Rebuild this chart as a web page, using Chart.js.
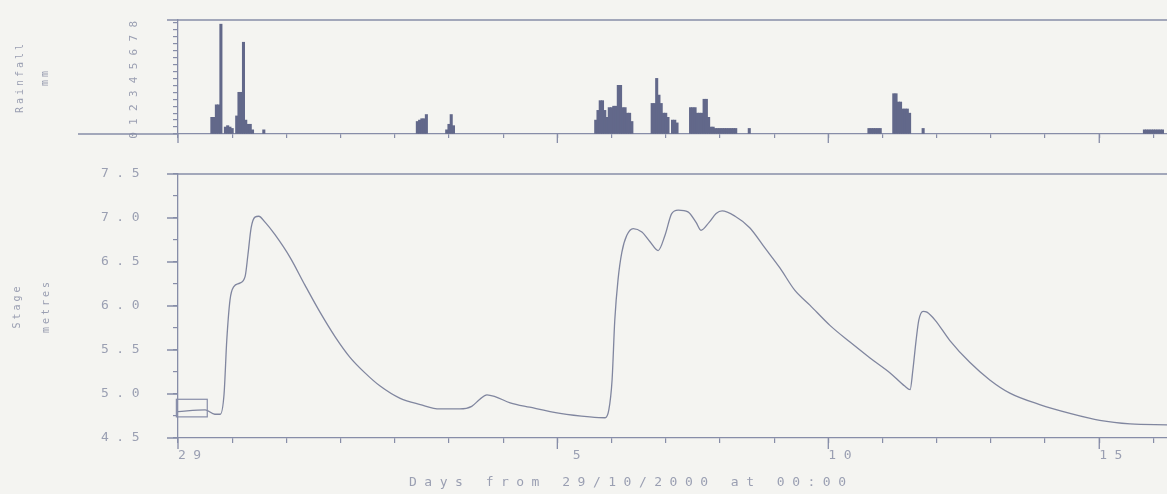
<!DOCTYPE html>
<html>
<head>
<meta charset="utf-8">
<script src="https://cdn.jsdelivr.net/npm/chart.js@4.4.1/dist/chart.umd.min.js"></script>
<style>
  html, body { margin: 0; padding: 0; background: #f4f4f1; }
  #wrap { position: relative; width: 1167px; height: 494px; overflow: hidden; }
  #rainBox { position: absolute; left: 0; top: 0; width: 1167px; height: 150px; }
  #stageBox { position: absolute; left: 0; top: 150px; width: 1167px; height: 344px; }
</style>
</head>
<body>
<div id="wrap">
  <div id="rainBox"><canvas id="rainChart"></canvas></div>
  <div id="stageBox"><canvas id="stageChart"></canvas></div>
</div>
<script>
// x axis: days from 29/10/2000 00:00
const xMaxDays = 18.25;
const xTickDays = [0, 7, 12, 17];
const xTickText = ['29', ' 5', '10', '15'];

// hourly rainfall (mm), hour counted from the start
const rainHours = [15, 16, 17, 18, 19, 21, 22, 23, 24, 26, 27, 28, 29, 30, 31, 32, 33, 38,
  106, 107, 108, 109, 110, 119, 120, 121, 122,
  185, 186, 187, 188, 189, 190, 191, 192, 193, 194, 195, 196, 197, 198, 199, 200, 201,
  210, 211, 212, 213, 214, 215, 216, 217, 219, 220, 221,
  227, 228, 229, 230, 231, 232, 233, 234, 235, 236, 237, 238, 239, 240, 241, 242, 243, 244, 245, 246, 247, 253,
  306, 307, 308, 309, 310, 311, 317, 318, 319, 320, 321, 322, 323, 324, 330,
  428, 429, 430, 431, 432, 433, 434, 435, 436];
const rainMm = [1.2, 1.2, 2.1, 2.1, 7.9, 0.5, 0.6, 0.5, 0.4, 1.3, 3.0, 3.0, 6.6, 1.0, 0.7, 0.7, 0.3, 0.3,
  0.9, 1.0, 1.1, 1.1, 1.4, 0.3, 0.7, 1.4, 0.6,
  1.0, 1.7, 2.4, 2.4, 1.7, 1.2, 1.9, 1.9, 2.0, 2.0, 3.5, 3.5, 1.9, 1.9, 1.5, 1.5, 0.9,
  2.2, 2.2, 4.0, 2.8, 2.2, 1.5, 1.5, 1.2, 1.0, 1.0, 0.8,
  1.9, 1.9, 1.9, 1.5, 1.5, 1.5, 2.5, 2.5, 1.2, 0.5, 0.5, 0.4, 0.4, 0.4, 0.4, 0.4, 0.4, 0.4, 0.4, 0.4, 0.4, 0.4,
  0.4, 0.4, 0.4, 0.4, 0.4, 0.4, 2.9, 2.9, 2.3, 2.3, 1.8, 1.8, 1.8, 1.5, 0.4,
  0.3, 0.3, 0.3, 0.3, 0.3, 0.3, 0.3, 0.3, 0.3];

// stage (metres)
const stageDays = [0, 0.50, 0.68, 0.78, 0.85, 0.90, 0.96, 1.03, 1.14, 1.24, 1.29, 1.35, 1.42, 1.49, 1.61, 1.79,
  2.07, 2.34, 2.62, 2.90, 3.17, 3.45, 3.73, 4.10, 4.47, 4.83, 5.20, 5.42, 5.57, 5.70, 5.85, 6.13, 6.49,
  7.05, 7.60, 7.88, 7.95, 8.01, 8.06, 8.12, 8.19, 8.28, 8.40, 8.56, 8.71, 8.86, 8.99, 9.11, 9.23, 9.41,
  9.56, 9.65, 9.80, 9.93, 10.04, 10.28, 10.55, 10.83, 11.11, 11.38, 11.66, 12.03, 12.40, 12.77, 13.14,
  13.41, 13.51, 13.56, 13.62, 13.67, 13.75, 13.82, 13.97, 14.24, 14.61, 14.98, 15.35, 15.90, 16.46,
  17.01, 17.57, 18.25];
const stageMetres = [4.80, 4.82, 4.77, 4.77, 5.00, 5.61, 6.07, 6.22, 6.26, 6.34, 6.58, 6.89, 7.01, 7.02, 6.95, 6.81,
  6.55, 6.24, 5.93, 5.65, 5.42, 5.24, 5.09, 4.95, 4.88, 4.83, 4.83, 4.86, 4.94, 4.99, 4.97, 4.90, 4.85,
  4.78, 4.74, 4.73, 4.82, 5.16, 5.84, 6.30, 6.61, 6.80, 6.88, 6.84, 6.73, 6.63, 6.81, 7.05, 7.09, 7.07,
  6.95, 6.86, 6.95, 7.05, 7.08, 7.02, 6.89, 6.66, 6.43, 6.18, 6.01, 5.78, 5.59, 5.41, 5.24,
  5.09, 5.05, 5.27, 5.61, 5.84, 5.94, 5.93, 5.84, 5.61, 5.36, 5.16, 5.01, 4.88, 4.78,
  4.70, 4.66, 4.65];

// small box drawn round the start of the record
const boxDays = [-0.03, 0.54];
const boxStage = [4.74, 4.94];

const lineCol = '#878da8';
const textCol = '#9a9fb2';
const monoFont = "'DejaVu Sans Mono', monospace";

// fixed axis sizes so both plot areas line up with the scan
const fixY = s => { s.width = 178; s.paddingTop = 0; s.paddingBottom = 0; };
const fixX = h => s => { s.height = h; s.paddingLeft = 0; s.paddingRight = 0; };

// Rainfall panel
new Chart(document.getElementById('rainChart'), {
  type: 'bar',
  data: {
    datasets: [{
      data: rainHours.map((h, i) => ({ x: h / 24, y: rainMm[i] })),
      backgroundColor: '#62688a',
      borderWidth: 0,
      barThickness: 2.4
    }]
  },
  options: {
    responsive: true,
    maintainAspectRatio: false,
    animation: false,
    layout: { padding: { top: 20, right: 0, left: 0, bottom: 0 } },
    plugins: { legend: { display: false }, tooltip: { enabled: false } },
    scales: {
      x: {
        type: 'linear', min: 0, max: xMaxDays, offset: false,
        grid: { drawOnChartArea: false, offset: false, tickLength: 4, color: lineCol, lineWidth: 1.2 },
        border: { color: lineCol, width: 1.3 },
        ticks: { display: false, stepSize: 1, includeBounds: false },
        afterFit: fixX(16)
      },
      y: {
        min: 0, max: 8.2,
        grid: { drawOnChartArea: false, tickLength: 5, color: lineCol, lineWidth: 1.2 },
        border: { color: lineCol, width: 1.3 },
        ticks: {
          stepSize: 0.5, includeBounds: false, autoSkip: false,
          minRotation: 90, maxRotation: 90, crossAlign: 'center', padding: 36,
          color: textCol, font: { family: monoFont, size: 11 },
          callback: v => Number.isInteger(v) ? String(v) : ''
        },
        title: {
          display: true, text: ['Rainfall', 'mm'], color: textCol,
          font: { family: monoFont, size: 10, lineHeight: 2.5 }, padding: { top: 8, bottom: 0 }
        },
        afterFit: fixY
      }
    }
  },
  plugins: [{
    id: 'rainFrame',
    beforeDraw(chart) { chart.ctx.letterSpacing = '3px'; },
    afterDraw(chart) {
      const { ctx, chartArea: a, scales } = chart;
      const y0 = scales.y.getPixelForValue(0);
      ctx.save();
      ctx.strokeStyle = lineCol;
      ctx.lineWidth = 1.3;
      ctx.beginPath();
      ctx.moveTo(a.left - 11, a.top); ctx.lineTo(a.right, a.top);
      ctx.moveTo(78, y0); ctx.lineTo(a.left, y0);
      xTickDays.forEach(d => {
        const px = scales.x.getPixelForValue(d);
        ctx.moveTo(px, a.bottom); ctx.lineTo(px, a.bottom + 9);
      });
      ctx.stroke();
      ctx.restore();
    }
  }]
});

// Stage panel
new Chart(document.getElementById('stageChart'), {
  type: 'line',
  data: {
    datasets: [{
      data: stageDays.map((d, i) => ({ x: d, y: stageMetres[i] })),
      borderColor: '#80869f',
      borderWidth: 1.3,
      pointRadius: 0,
      cubicInterpolationMode: 'monotone',
      fill: false
    }]
  },
  options: {
    responsive: true,
    maintainAspectRatio: false,
    animation: false,
    layout: { padding: { top: 24, right: 0, left: 0, bottom: 0 } },
    plugins: { legend: { display: false }, tooltip: { enabled: false } },
    scales: {
      x: {
        type: 'linear', min: 0, max: xMaxDays,
        grid: { drawOnChartArea: false, tickLength: 5, color: lineCol, lineWidth: 1.2 },
        border: { color: lineCol, width: 1.3 },
        ticks: {
          stepSize: 1, includeBounds: false, autoSkip: false, maxRotation: 0, align: 'start', padding: 5,
          color: textCol, font: { family: monoFont, size: 13 },
          callback: v => { const i = xTickDays.indexOf(v); return i < 0 ? '' : xTickText[i]; }
        },
        afterFit: fixX(56)
      },
      y: {
        min: 4.5, max: 7.5,
        grid: { drawOnChartArea: false, tickLength: 5, color: lineCol, lineWidth: 1.2 },
        border: { color: lineCol, width: 1.3 },
        ticks: {
          stepSize: 0.25, autoSkip: false, padding: 26,
          color: textCol, font: { family: monoFont, size: 13 },
          callback: v => (Math.round(v * 4) % 2 === 0) ? v.toFixed(1) : ''
        },
        afterFit: fixY
      }
    }
  },
  plugins: [{
    id: 'stageFrame',
    beforeDraw(chart) { chart.ctx.letterSpacing = '7.5px'; },
    afterDatasetsDraw(chart) {
      const { ctx, scales } = chart;
      const x1 = scales.x.getPixelForValue(boxDays[0]);
      const x2 = scales.x.getPixelForValue(boxDays[1]);
      const y1 = scales.y.getPixelForValue(boxStage[1]);
      const y2 = scales.y.getPixelForValue(boxStage[0]);
      ctx.save();
      ctx.strokeStyle = lineCol;
      ctx.lineWidth = 1.2;
      ctx.strokeRect(x1, y1, x2 - x1, y2 - y1);
      ctx.restore();
    },
    afterDraw(chart) {
      const { ctx, chartArea: a, scales } = chart;
      ctx.save();
      ctx.strokeStyle = lineCol;
      ctx.lineWidth = 1.3;
      ctx.beginPath();
      ctx.moveTo(a.left - 11, a.top); ctx.lineTo(a.right, a.top);
      xTickDays.forEach(d => {
        const px = scales.x.getPixelForValue(d);
        ctx.moveTo(px, a.bottom); ctx.lineTo(px, a.bottom + 11);
      });
      scales.y.ticks.forEach(t => {
        if (Math.round(t.value * 4) % 2 !== 0) return;
        const py = scales.y.getPixelForValue(t.value);
        ctx.moveTo(a.left - 11, py); ctx.lineTo(a.left, py);
      });
      ctx.stroke();

      // axis titles
      ctx.fillStyle = textCol;
      ctx.letterSpacing = '7.5px';
      ctx.font = '13px ' + monoFont;
      ctx.textAlign = 'left';
      ctx.textBaseline = 'middle';
      ctx.fillText('Days from 29/10/2000 at 00:00', a.left + 231, a.bottom + 45);

      ctx.letterSpacing = '3px';
      ctx.font = '10px ' + monoFont;
      ctx.textAlign = 'center';
      ctx.translate(17, (a.top + a.bottom) / 2);
      ctx.rotate(-Math.PI / 2);
      ctx.fillText('Stage', 0, 0);
      ctx.fillText('metres', 0, 29);
      ctx.restore();
    }
  }]
});
</script>
</body>
</html>
